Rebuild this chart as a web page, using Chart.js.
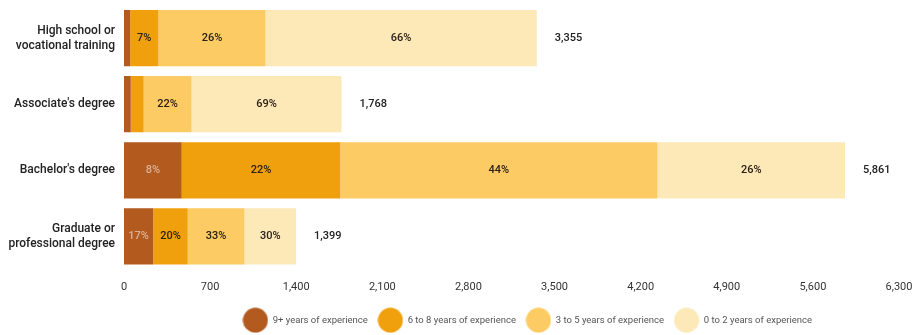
<!DOCTYPE html>
<html>
<head>
<meta charset="utf-8">
<script src="https://cdn.jsdelivr.net/npm/chart.js@4.4.1/dist/chart.umd.min.js"></script>
<style>
  html, body { margin: 0; padding: 0; background: #fff; }
  #wrap { width: 915px; height: 335px; position: relative; }
</style>
</head>
<body>
<div id="wrap"><canvas id="eduChart"></canvas></div>
<script>
// data
const categories = [
  ['High school or', 'vocational training'],
  "Associate's degree",
  "Bachelor's degree",
  ['Graduate or', 'professional degree']
];
const seriesNames = ['9+ years of experience', '6 to 8 years of experience', '3 to 5 years of experience', '0 to 2 years of experience'];
const ninePlus = [50, 55, 469, 238];
const sixToEight = [230, 105, 1289, 280];
const threeToFive = [870, 389, 2579, 461];
const zeroToTwo = [2205, 1219, 1524, 420];
const totals = [3355, 1768, 5861, 1399];
const xMax = 6300;
const xStep = 700;

const colors = ['#b35a1f', '#f0a00c', '#fdcb63', '#fde8b7'];

function dot(color) {
  const c = document.createElement('canvas');
  c.width = 26; c.height = 26;
  const g = c.getContext('2d');
  g.fillStyle = color;
  g.beginPath();
  g.arc(13, 13, 12.5, 0, Math.PI * 2);
  g.fill();
  return c;
}

// percentage labels inside the bars + totals at the end
const barLabels = {
  id: 'barLabels',
  afterDatasetsDraw(chart) {
    const ctx = chart.ctx;
    ctx.save();
    ctx.textBaseline = 'middle';
    chart.data.datasets.forEach((ds, di) => {
      const meta = chart.getDatasetMeta(di);
      meta.data.forEach((bar, i) => {
        const pct = ds.data[i] / totals[i] * 100;
        if (pct < 6.5) return;
        ctx.font = '500 11px Roboto, sans-serif';
        ctx.textAlign = 'center';
        ctx.fillStyle = di === 0 ? '#dcb196' : '#2b2118';
        ctx.fillText(Math.round(pct) + '%', (bar.x + bar.base) / 2, bar.y);
      });
    });
    const last = chart.getDatasetMeta(chart.data.datasets.length - 1);
    last.data.forEach((bar, i) => {
      ctx.font = '500 11px Roboto, sans-serif';
      ctx.textAlign = 'left';
      ctx.fillStyle = '#222';
      ctx.fillText(totals[i].toLocaleString('en-US'), bar.x + 18, bar.y);
    });
    ctx.restore();
  }
};

// the legend in the original sits a bit right of the plot centre
const legendShift = {
  id: 'legendShift',
  afterLayout(chart) {
    chart.legend.left += 16;
    chart.legend.right += 16;
  }
};

const ctx = document.getElementById('eduChart').getContext('2d');
new Chart(ctx, {
  type: 'bar',
  data: {
    labels: categories,
    datasets: [ninePlus, sixToEight, threeToFive, zeroToTwo].map((d, i) => ({
      label: seriesNames[i],
      data: d,
      backgroundColor: colors[i],
      borderWidth: 0,
      categoryPercentage: 1,
      barPercentage: 0.85
    }))
  },
  options: {
    indexAxis: 'y',
    responsive: true,
    maintainAspectRatio: false,
    animation: false,
    layout: { padding: { top: 5, right: 16, left: 0, bottom: 0 } },
    scales: {
      x: {
        stacked: true,
        min: 0,
        max: xMax,
        grid: { display: false, drawTicks: false },
        border: { display: false },
        ticks: {
          stepSize: xStep,
          padding: 11,
          color: '#333',
          font: { family: 'Roboto, sans-serif', size: 11 },
          callback: v => v.toLocaleString('en-US')
        },
        afterFit: s => { s.height = 36; s.paddingLeft = 0; s.paddingRight = 0; }
      },
      y: {
        stacked: true,
        grid: { display: false, drawTicks: false },
        border: { display: false },
        ticks: {
          padding: 9,
          color: '#222',
          font: { family: 'Roboto, sans-serif', size: 12, weight: '500', lineHeight: 1.25 }
        },
        afterFit: s => { s.width = 124; s.paddingTop = 0; s.paddingBottom = 0; }
      }
    },
    plugins: {
      tooltip: { enabled: false },
      legend: {
        position: 'bottom',
        fullSize: false,
        labels: {
          usePointStyle: true,
          pointStyleWidth: 25,
          padding: 10,
          color: '#555',
          font: { family: 'Roboto, sans-serif', size: 9.5 },
          generateLabels: chart => {
            const items = Chart.defaults.plugins.legend.labels.generateLabels(chart);
            items.forEach((it, i) => { it.pointStyle = dot(colors[i]); });
            return items;
          }
        }
      }
    }
  },
  plugins: [barLabels, legendShift]
});
</script>
</body>
</html>
